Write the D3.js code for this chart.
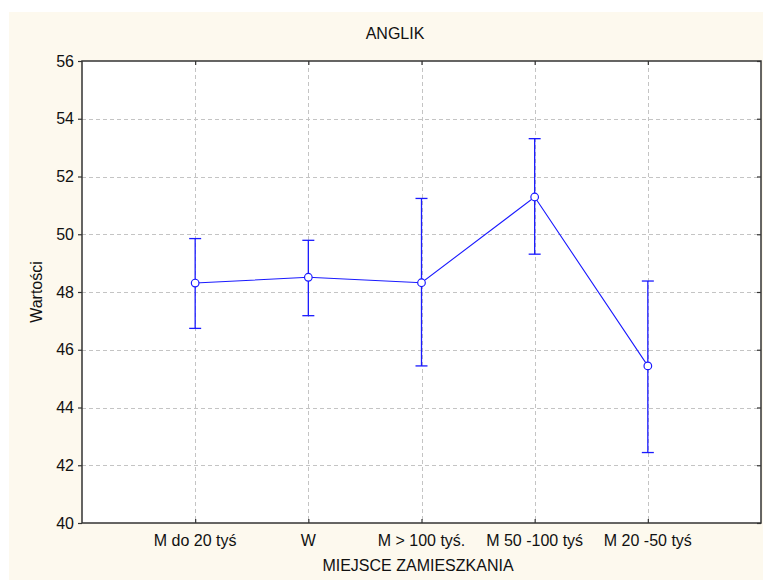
<!DOCTYPE html>
<html>
<head>
<meta charset="utf-8">
<script src="https://cdn.jsdelivr.net/npm/d3@7"></script>
<style>
  body { margin: 0; background: #ffffff; }
  svg { display: block; }
  text { font-family: Arial, "Liberation Sans", sans-serif; fill: #111; }
</style>
</head>
<body>
<svg id="chart" width="763" height="581"></svg>
<script>
// ---- data ----
const categories = ["M do 20 tyś", "W", "M > 100 tyś.", "M 50 -100 tyś", "M 20 -50 tyś"];
const means = [48.31, 48.51, 48.32, 51.29, 45.44];
const upper = [49.85, 49.79, 51.24, 53.31, 48.38];
const lower = [46.74, 47.18, 45.44, 49.31, 42.44];
const yTicks = [40, 42, 44, 46, 48, 50, 52, 54, 56];
const title = "ANGLIK";
const xTitle = "MIEJSCE ZAMIESZKANIA";
const yTitle = "Wartości";

// ---- layout ----
const svg = d3.select("#chart");
const W = 763, H = 581;
const plot = { left: 82, top: 61, right: 761, bottom: 523 };

svg.append("rect").attr("x", 9).attr("y", 12).attr("width", W - 9).attr("height", 568)
  .attr("fill", "#fdf9ee");
svg.append("rect").attr("x", plot.left).attr("y", plot.top)
  .attr("width", plot.right - plot.left).attr("height", plot.bottom - plot.top)
  .attr("fill", "#ffffff");

const x = d3.scaleLinear().domain([0, categories.length + 1]).range([plot.left, plot.right]);
const y = d3.scaleLinear().domain([40, 56]).range([plot.bottom, plot.top]);
const xPos = i => x(i + 1);

// gridlines
const grid = svg.append("g").attr("stroke", "#c4c4c4").attr("stroke-width", 1)
  .attr("stroke-dasharray", "4,3");
yTicks.filter(t => t > 40 && t < 56).forEach(t => {
  grid.append("line").attr("x1", plot.left).attr("x2", plot.right)
    .attr("y1", Math.round(y(t)) + 0.5).attr("y2", Math.round(y(t)) + 0.5);
});
categories.forEach((c, i) => {
  grid.append("line").attr("y1", plot.top).attr("y2", plot.bottom)
    .attr("x1", Math.round(xPos(i)) + 0.5).attr("x2", Math.round(xPos(i)) + 0.5);
});

// axes
const axisColor = "#333";
const yAxisL = d3.axisLeft(y).tickValues(yTicks).tickSize(4).tickPadding(4);
const gL = svg.append("g").attr("transform", `translate(${plot.left},0)`).call(yAxisL);
gL.select(".domain").remove();
gL.selectAll("line").attr("stroke", axisColor).attr("stroke-width", 1.2);
gL.selectAll("text").style("font-size", "16px").attr("fill", "#111")
  .style("font-family", "Arial, 'Liberation Sans', sans-serif");

const yAxisR = d3.axisLeft(y).tickValues(yTicks).tickSize(4).tickFormat("");
const gR = svg.append("g").attr("transform", `translate(${plot.right},0)`).call(yAxisR);
gR.select(".domain").remove();
gR.selectAll("line").attr("stroke", axisColor).attr("stroke-width", 1.2);

const xAxisB = d3.axisTop(x).tickValues(categories.map((c, i) => i + 1)).tickSize(4).tickFormat("");
const gB = svg.append("g").attr("transform", `translate(0,${plot.bottom})`).call(xAxisB);
gB.select(".domain").remove();
gB.selectAll("line").attr("stroke", axisColor).attr("stroke-width", 1.2);

const xAxisT = d3.axisBottom(x).tickValues(categories.map((c, i) => i + 1)).tickSize(4).tickFormat("");
const gT = svg.append("g").attr("transform", `translate(0,${plot.top})`).call(xAxisT);
gT.select(".domain").remove();
gT.selectAll("line").attr("stroke", axisColor).attr("stroke-width", 1.2);

// category labels
svg.append("g").selectAll("text").data(categories).join("text")
  .attr("x", (d, i) => xPos(i)).attr("y", 546)
  .attr("text-anchor", "middle").style("font-size", "16px").text(d => d);

// frame
svg.append("rect").attr("x", plot.left).attr("y", plot.top)
  .attr("width", plot.right - plot.left).attr("height", plot.bottom - plot.top)
  .attr("fill", "none").attr("stroke", axisColor).attr("stroke-width", 1.5);

// error bars
const blue = "#1a1aff";
const eb = svg.append("g").attr("stroke", blue).attr("stroke-width", 1.3);
categories.forEach((c, i) => {
  const cx = xPos(i);
  eb.append("line").attr("x1", cx).attr("x2", cx).attr("y1", y(lower[i])).attr("y2", y(upper[i]));
  eb.append("line").attr("x1", cx - 6).attr("x2", cx + 6).attr("y1", y(lower[i])).attr("y2", y(lower[i]));
  eb.append("line").attr("x1", cx - 6).attr("x2", cx + 6).attr("y1", y(upper[i])).attr("y2", y(upper[i]));
});

// mean line
const line = d3.line().x((d, i) => xPos(i)).y(d => y(d));
svg.append("path").datum(means).attr("d", line).attr("fill", "none")
  .attr("stroke", blue).attr("stroke-width", 1.1);

// points
svg.append("g").selectAll("circle").data(means).join("circle")
  .attr("cx", (d, i) => xPos(i)).attr("cy", d => y(d)).attr("r", 3.8)
  .attr("fill", "#ffffff").attr("stroke", blue).attr("stroke-width", 1.2);

// titles
svg.append("text").attr("x", 395).attr("y", 39).attr("text-anchor", "middle")
  .style("font-size", "16px").text(title);
svg.append("text").attr("x", 418).attr("y", 571).attr("text-anchor", "middle")
  .style("font-size", "16px").text(xTitle);
svg.append("text").attr("transform", `translate(42,${(plot.top + plot.bottom) / 2}) rotate(-90)`)
  .attr("text-anchor", "middle").style("font-size", "16px").text(yTitle);
</script>
</body>
</html>
